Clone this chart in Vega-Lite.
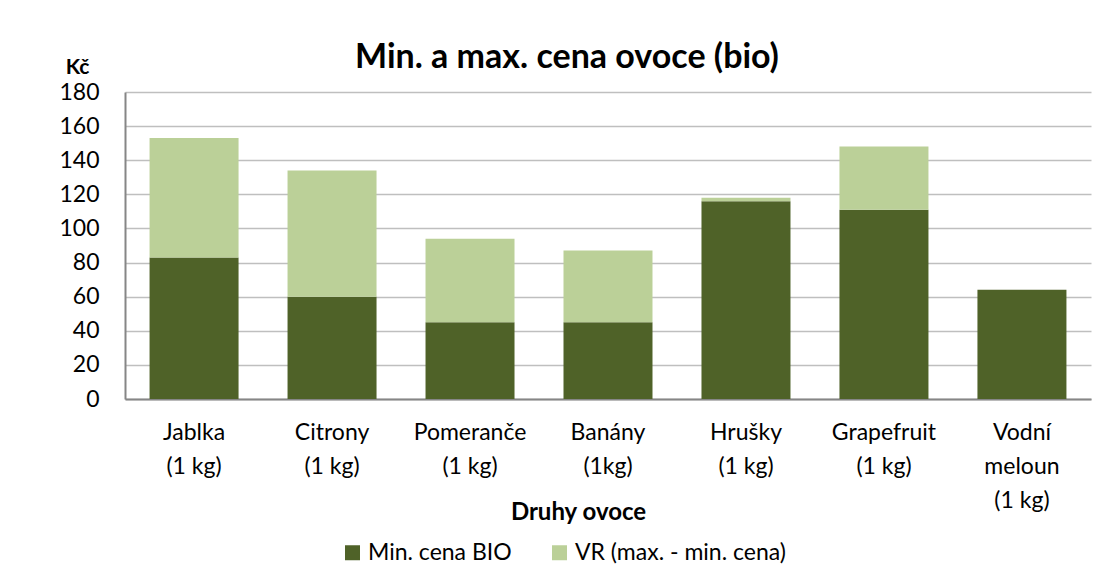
{
  "$schema": "https://vega.github.io/schema/vega-lite/v6.json",
  "width": 966,
  "height": 307,
  "autosize": {"type": "none"},
  "padding": {"left": 125, "top": 92, "right": 24, "bottom": 187},
  "background": "white",
  "title": {
    "text": "Min. a max. cena ovoce (bio)",
    "font": "Lato",
    "fontSize": 34,
    "fontWeight": "bold",
    "color": "#000000",
    "anchor": "middle",
    "dx": -41,
    "offset": 0,
    "baseline": "alphabetic",
    "dy": 46
  },
  "data": {
    "values": [
      {"ovoce": "Jablka|(1 kg)", "serie": "Min. cena BIO", "cena": 83},
      {"ovoce": "Jablka|(1 kg)", "serie": "VR (max. - min. cena)", "cena": 70},
      {"ovoce": "Citrony|(1 kg)", "serie": "Min. cena BIO", "cena": 60},
      {"ovoce": "Citrony|(1 kg)", "serie": "VR (max. - min. cena)", "cena": 74},
      {"ovoce": "Pomeranče|(1 kg)", "serie": "Min. cena BIO", "cena": 45},
      {"ovoce": "Pomeranče|(1 kg)", "serie": "VR (max. - min. cena)", "cena": 49},
      {"ovoce": "Banány|(1kg)", "serie": "Min. cena BIO", "cena": 45},
      {"ovoce": "Banány|(1kg)", "serie": "VR (max. - min. cena)", "cena": 42},
      {"ovoce": "Hrušky|(1 kg)", "serie": "Min. cena BIO", "cena": 116},
      {"ovoce": "Hrušky|(1 kg)", "serie": "VR (max. - min. cena)", "cena": 2},
      {"ovoce": "Grapefruit|(1 kg)", "serie": "Min. cena BIO", "cena": 111},
      {"ovoce": "Grapefruit|(1 kg)", "serie": "VR (max. - min. cena)", "cena": 37},
      {"ovoce": "Vodní|meloun|(1 kg)", "serie": "Min. cena BIO", "cena": 64},
      {"ovoce": "Vodní|meloun|(1 kg)", "serie": "VR (max. - min. cena)", "cena": 0}
    ]
  },
  "mark": {"type": "bar"},
  "encoding": {
    "x": {
      "field": "ovoce",
      "type": "nominal",
      "sort": null,
      "scale": {"paddingInner": 0.355, "paddingOuter": 0.178},
      "axis": {
        "title": "Druhy ovoce",
        "titleFont": "Lato",
        "titleFontSize": 24,
        "titleFontWeight": "bold",
        "titleColor": "#000000",
        "titleX": 453,
        "titleY": 120,
        "titleAlign": "center",
        "titleBaseline": "alphabetic",
        "labelExpr": "split(datum.value, '|')",
        "labelAngle": 0,
        "labelFont": "Lato",
        "labelFontSize": 23,
        "labelColor": "#000000",
        "labelLineHeight": 34,
        "labelPadding": 22,
        "labelBaseline": "top",
        "labelLimit": 0,
        "ticks": false,
        "domainColor": "#868686",
        "domainWidth": 2,
        "grid": false
      }
    },
    "y": {
      "field": "cena",
      "type": "quantitative",
      "stack": "zero",
      "scale": {"domain": [0, 180], "nice": false},
      "axis": {
        "values": [0, 20, 40, 60, 80, 100, 120, 140, 160, 180],
        "title": "Kč",
        "titleFont": "Lato",
        "titleFontSize": 21,
        "titleFontWeight": "bold",
        "titleColor": "#000000",
        "titleAngle": 0,
        "titleX": -48,
        "titleY": -19,
        "titleAlign": "center",
        "titleBaseline": "alphabetic",
        "labelFont": "Lato",
        "labelFontSize": 23,
        "labelColor": "#000000",
        "labelPadding": 26,
        "ticks": false,
        "domainColor": "#868686",
        "domainWidth": 2,
        "grid": true,
        "gridColor": "#BFBFBF",
        "gridWidth": 1.5
      }
    },
    "color": {
      "field": "serie",
      "type": "nominal",
      "scale": {
        "domain": ["Min. cena BIO", "VR (max. - min. cena)"],
        "range": ["#4F6228", "#BBD098"]
      },
      "legend": {
        "title": null,
        "orient": "none",
        "legendX": 216,
        "legendY": 449,
        "direction": "horizontal",
        "columns": 2,
        "columnPadding": 36,
        "symbolType": "square",
        "symbolSize": 225,
        "symbolStrokeWidth": 0,
        "labelFont": "Lato",
        "labelFontSize": 23,
        "labelColor": "#000000",
        "labelOffset": 4,
        "labelLimit": 0,
        "padding": 0
      }
    },
    "order": {"field": "serie", "sort": "ascending"}
  },
  "config": {
    "view": {"stroke": null}
  }
}
